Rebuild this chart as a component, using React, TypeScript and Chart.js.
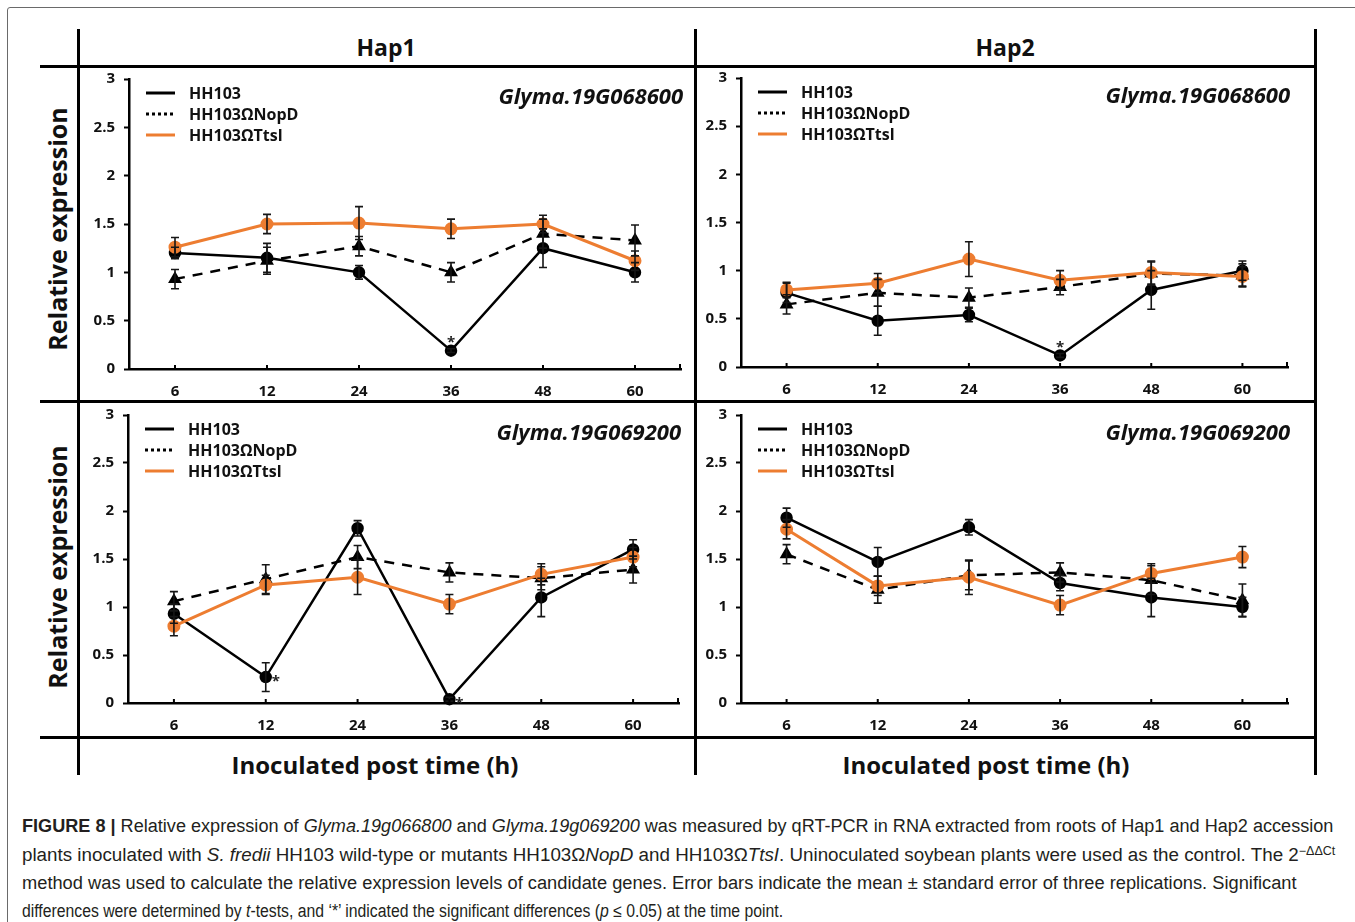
import React, { useEffect, useRef, useLayoutEffect, useState } from "react";
import { Chart, registerables } from "chart.js";

Chart.register(...registerables);

// ---------- data ----------
const timeLabels = ["6", "12", "24", "36", "48", "60"];
const yTickValues = [0, 0.5, 1, 1.5, 2, 2.5, 3];
const yTickLabels = ["0", "0.5", "1", "1.5", "2", "2.5", "3"];
const seriesNames = ["HH103", "HH103ΩNopD", "HH103ΩTtsl"];
const hapLabels = ["Hap1", "Hap2"];
const geneLabels = ["Glyma.19G068600", "Glyma.19G069200"];
const yAxisTitle = "Relative expression";
const xAxisTitle = "Inoculated post time (h)";

// Hap1 – Glyma.19G068600
const h1g1HH103 = [1.2, 1.15, 1.0, 0.19, 1.25, 1.0];
const h1g1HH103Err = [0.06, 0.15, 0.07, 0.02, 0.2, 0.1];
const h1g1NopD = [0.93, 1.12, 1.27, 1.0, 1.4, 1.33];
const h1g1NopDErr = [0.1, 0.14, 0.1, 0.1, 0.15, 0.16];
const h1g1Ttsl = [1.26, 1.5, 1.51, 1.45, 1.5, 1.12];
const h1g1TtslErr = [0.1, 0.1, 0.17, 0.1, 0.09, 0.1];

// Hap2 – Glyma.19G068600
const h2g1HH103 = [0.77, 0.48, 0.54, 0.12, 0.8, 1.0];
const h2g1HH103Err = [0.1, 0.15, 0.07, 0.02, 0.2, 0.1];
const h2g1NopD = [0.65, 0.77, 0.72, 0.83, 0.97, 0.95];
const h2g1NopDErr = [0.1, 0.14, 0.1, 0.08, 0.12, 0.12];
const h2g1Ttsl = [0.8, 0.87, 1.12, 0.9, 0.98, 0.94];
const h2g1TtslErr = [0.08, 0.1, 0.18, 0.1, 0.12, 0.1];

// Hap1 – Glyma.19G069200
const h1g2HH103 = [0.93, 0.27, 1.82, 0.04, 1.1, 1.6];
const h1g2HH103Err = [0.1, 0.15, 0.08, 0.02, 0.2, 0.1];
const h1g2NopD = [1.06, 1.29, 1.52, 1.36, 1.3, 1.39];
const h1g2NopDErr = [0.1, 0.15, 0.12, 0.1, 0.12, 0.14];
const h1g2Ttsl = [0.8, 1.23, 1.31, 1.03, 1.34, 1.52];
const h1g2TtslErr = [0.1, 0.1, 0.18, 0.1, 0.11, 0.1];

// Hap2 – Glyma.19G069200
const h2g2HH103 = [1.93, 1.47, 1.83, 1.25, 1.1, 1.0];
const h2g2HH103Err = [0.1, 0.15, 0.08, 0.08, 0.2, 0.1];
const h2g2NopD = [1.55, 1.18, 1.33, 1.36, 1.28, 1.07];
const h2g2NopDErr = [0.1, 0.14, 0.15, 0.1, 0.15, 0.17];
const h2g2Ttsl = [1.81, 1.22, 1.31, 1.02, 1.35, 1.52];
const h2g2TtslErr = [0.1, 0.1, 0.18, 0.1, 0.1, 0.11];

// significance marks: index of time point on HH103 series
const h1g1Stars = [3];
const h2g1Stars = [3];
const h1g2Stars = [1, 3];
const h2g2Stars: number[] = [];

// ---------- styles ----------
const ORANGE = "#ED7D31";
const INK = "#111";
const FONT = "'Open Sans', 'DejaVu Sans', sans-serif";

type Area = { l: number; t: number; r: number; b: number };

type PanelProps = {
  area: Area;
  values: number[][];
  errors: number[][];
  gene: string;
  stars: number[];
  starSide: "top" | "right";
};

function Panel({ area, values, errors, gene, stars, starSide }: PanelProps) {
  const ref = useRef<HTMLCanvasElement>(null);
  const padL = 50, padT = 25, padR = 25, padB = 40;
  const w = area.r - area.l + padL + padR;
  const h = area.b - area.t + padT + padB;

  useEffect(() => {
    const errorBars = {
      id: "errorBars",
      afterDatasetsDraw(chart: any) {
        const ctx = chart.ctx;
        const ys = chart.scales.y;
        chart.data.datasets.forEach((ds: any, di: number) => {
          const meta = chart.getDatasetMeta(di);
          const errs = ds.errors as number[];
          if (!errs) return;
          meta.data.forEach((pt: any, i: number) => {
            const v = ds.data[i];
            const e = errs[i];
            const y1 = ys.getPixelForValue(v + e);
            const y2 = ys.getPixelForValue(v - e);
            const x = pt.x;
            ctx.save();
            ctx.strokeStyle = "#161616";
            ctx.lineWidth = 1.6;
            ctx.beginPath();
            ctx.moveTo(x, y1); ctx.lineTo(x, y2);
            ctx.moveTo(x - 4, y1); ctx.lineTo(x + 4, y1);
            ctx.moveTo(x - 4, y2); ctx.lineTo(x + 4, y2);
            ctx.stroke();
            ctx.restore();
          });
        });
      },
    };

    const decor = {
      id: "decor",
      afterDraw(chart: any) {
        const ctx = chart.ctx;
        const { left, top, right, bottom } = chart.chartArea;
        const xs = chart.scales.x;
        ctx.save();
        // inward x ticks
        ctx.strokeStyle = "#000";
        ctx.lineWidth = 2;
        ctx.beginPath();
        timeLabels.forEach((_, i) => {
          const x = xs.getPixelForValue(i);
          ctx.moveTo(x, bottom); ctx.lineTo(x, bottom - 4);
        });
        ctx.moveTo(right - 1, bottom); ctx.lineTo(right - 1, bottom - 5);
        ctx.stroke();

        // legend
        const rows = [top + 14, top + 35, top + 56];
        const styles = [
          { c: "#000", dash: [] as number[] },
          { c: "#000", dash: [3, 3] },
          { c: ORANGE, dash: [] as number[] },
        ];
        rows.forEach((ry, i) => {
          ctx.beginPath();
          ctx.strokeStyle = styles[i].c;
          ctx.lineWidth = 3;
          ctx.setLineDash(styles[i].dash);
          ctx.moveTo(left + 17, ry); ctx.lineTo(left + 46, ry);
          ctx.stroke();
          ctx.setLineDash([]);
          ctx.fillStyle = INK;
          ctx.font = `bold 16px ${FONT}`;
          ctx.textAlign = "left";
          ctx.textBaseline = "middle";
          ctx.fillText(seriesNames[i], left + 60, ry + 1);
        });

        // gene label
        ctx.font = `italic bold 22px ${FONT}`;
        ctx.textAlign = "right";
        ctx.textBaseline = "middle";
        ctx.fillStyle = INK;
        ctx.fillText(gene, right + 2, top + 19);

        // stars
        const meta = chart.getDatasetMeta(0);
        ctx.font = `bold 15px ${FONT}`;
        ctx.textAlign = "center";
        ctx.textBaseline = "middle";
        ctx.fillStyle = "#222";
        stars.forEach((i) => {
          const p = meta.data[i];
          if (starSide === "top") ctx.fillText("*", p.x, p.y - 8);
          else ctx.fillText("*", p.x + 10, p.y + 5);
        });
        ctx.restore();
      },
    };

    const chart = new Chart(ref.current as HTMLCanvasElement, {
      type: "line",
      data: {
        labels: timeLabels,
        datasets: [
          {
            label: seriesNames[0],
            data: values[0],
            errors: errors[0],
            borderColor: "#000",
            backgroundColor: "#000",
            borderWidth: 2.5,
            pointStyle: "circle",
            pointRadius: 5,
            pointBackgroundColor: "#000",
            pointBorderColor: "#000",
            tension: 0,
            clip: false,
            order: 2,
          } as any,
          {
            label: seriesNames[1],
            data: values[1],
            errors: errors[1],
            borderColor: "#000",
            backgroundColor: "#000",
            borderWidth: 2.5,
            borderDash: [10, 8],
            pointStyle: "triangle",
            pointRadius: 5.5,
            pointBackgroundColor: "#000",
            pointBorderColor: "#000",
            tension: 0,
            clip: false,
            order: 1,
          } as any,
          {
            label: seriesNames[2],
            data: values[2],
            errors: errors[2],
            borderColor: ORANGE,
            backgroundColor: ORANGE,
            borderWidth: 3,
            pointStyle: "circle",
            pointRadius: 5,
            pointBackgroundColor: ORANGE,
            pointBorderColor: ORANGE,
            tension: 0,
            clip: false,
            order: 0,
          } as any,
        ],
      },
      options: {
        animation: false,
        responsive: false,
        maintainAspectRatio: false,
        layout: { padding: { top: padT, right: padR, left: 0, bottom: 0 } },
        plugins: { legend: { display: false }, tooltip: { enabled: false } },
        scales: {
          x: {
            type: "category",
            offset: true,
            afterFit: (s: any) => { s.height = padB; },
            grid: { display: false, drawTicks: false },
            border: { display: true, color: "#000", width: 2.5 },
            ticks: {
              color: INK,
              font: { family: FONT, size: 15, weight: "bold" },
              padding: 14,
              maxRotation: 0,
              autoSkip: false,
            },
          },
          y: {
            min: 0,
            max: 3,
            afterFit: (s: any) => { s.width = padL; },
            afterBuildTicks: (s: any) => { s.ticks = yTickValues.map((v) => ({ value: v })); },
            grid: { drawOnChartArea: false, drawTicks: true, tickLength: 5, tickWidth: 2, color: "#000" },
            border: { display: true, color: "#000", width: 2.5 },
            ticks: {
              color: INK,
              font: { family: FONT, size: 15, weight: "bold" },
              padding: 9,
              callback: (v: any) => {
                const i = yTickValues.indexOf(Number(v));
                return i >= 0 ? yTickLabels[i] : "";
              },
            },
          },
        },
      } as any,
      plugins: [errorBars, decor],
    });
    return () => chart.destroy();
  }, []);

  return (
    <canvas
      ref={ref}
      width={w}
      height={h}
      style={{ position: "absolute", left: area.l - padL, top: area.t - padT, width: w, height: h }}
    />
  );
}

function HLine({ y, x1, x2, w = 3 }: { y: number; x1: number; x2: number; w?: number }) {
  return <div style={{ position: "absolute", left: x1, top: y - w / 2, width: x2 - x1, height: w, background: "#000" }} />;
}
function VLine({ x, y1, y2, w = 3 }: { x: number; y1: number; y2: number; w?: number }) {
  return <div style={{ position: "absolute", left: x - w / 2, top: y1, width: w, height: y2 - y1, background: "#000" }} />;
}

function CenterText({ x, y, size, children, rotate = false }: any) {
  return (
    <div
      style={{
        position: "absolute",
        left: x,
        top: y,
        transform: `translate(-50%, -50%)${rotate ? " rotate(-90deg)" : ""}`,
        fontFamily: FONT,
        fontWeight: 700,
        fontSize: size,
        color: INK,
        whiteSpace: "nowrap",
        lineHeight: 1,
      }}
    >
      {children}
    </div>
  );
}

function FitLine({ y, width, children }: { y: number; width: number; children: any }) {
  const ref = useRef<HTMLSpanElement>(null);
  const [scale, setScale] = useState(1);
  useLayoutEffect(() => {
    const el = ref.current;
    if (!el) return;
    const wNow = el.offsetWidth;
    if (wNow > 0) setScale(width / wNow);
  }, []);
  return (
    <span
      ref={ref}
      style={{
        position: "absolute",
        left: 22,
        top: y - 11,
        display: "inline-block",
        whiteSpace: "nowrap",
        fontFamily: "'Liberation Sans Narrow', 'Liberation Sans', Arial, sans-serif",
        fontSize: 18,
        lineHeight: "22px",
        color: "#231f20",
        transform: `scaleX(${scale})`,
        transformOrigin: "left center",
      }}
    >
      {children}
    </span>
  );
}

export default function App() {
  const TL: Area = { l: 129, t: 79, r: 681, b: 369 };
  const TR: Area = { l: 741, t: 78, r: 1288, b: 367 };
  const BL: Area = { l: 128, t: 415, r: 679, b: 703 };
  const BR: Area = { l: 741, t: 415, r: 1288, b: 703 };

  return (
    <div style={{ position: "absolute", left: 0, top: 0, width: 1355, height: 922, overflow: "hidden", background: "#fff" }}>
      {/* outer figure box */}
      <div style={{ position: "absolute", left: 7, top: 7, width: 1400, height: 1000, border: "1.5px solid #6a6a6a", borderRadius: 3 }} />

      {/* frame */}
      <VLine x={78} y1={29} y2={775} />
      <VLine x={695} y1={29} y2={775} />
      <VLine x={1315} y1={29} y2={775} />
      <HLine y={66} x1={40} x2={1317} />
      <HLine y={401} x1={40} x2={1317} />
      <HLine y={737} x1={40} x2={1317} />

      <CenterText x={386} y={47} size={23}>{hapLabels[0]}</CenterText>
      <CenterText x={1005} y={47} size={23}>{hapLabels[1]}</CenterText>
      <CenterText x={57} y={229} size={25} rotate>{yAxisTitle}</CenterText>
      <CenterText x={57} y={567} size={25} rotate>{yAxisTitle}</CenterText>
      <CenterText x={375} y={765} size={24}>{xAxisTitle}</CenterText>
      <CenterText x={986} y={765} size={24}>{xAxisTitle}</CenterText>

      <Panel
        area={TL}
        values={[h1g1HH103, h1g1NopD, h1g1Ttsl]}
        errors={[h1g1HH103Err, h1g1NopDErr, h1g1TtslErr]}
        gene={geneLabels[0]}
        stars={h1g1Stars}
        starSide="top"
      />
      <Panel
        area={TR}
        values={[h2g1HH103, h2g1NopD, h2g1Ttsl]}
        errors={[h2g1HH103Err, h2g1NopDErr, h2g1TtslErr]}
        gene={geneLabels[0]}
        stars={h2g1Stars}
        starSide="top"
      />
      <Panel
        area={BL}
        values={[h1g2HH103, h1g2NopD, h1g2Ttsl]}
        errors={[h1g2HH103Err, h1g2NopDErr, h1g2TtslErr]}
        gene={geneLabels[1]}
        stars={h1g2Stars}
        starSide="right"
      />
      <Panel
        area={BR}
        values={[h2g2HH103, h2g2NopD, h2g2Ttsl]}
        errors={[h2g2HH103Err, h2g2NopDErr, h2g2TtslErr]}
        gene={geneLabels[1]}
        stars={h2g2Stars}
        starSide="right"
      />

      {/* caption */}
      <FitLine y={826} width={1311}>
        <b>FIGURE 8 |</b> Relative expression of <i>Glyma.19g066800</i> and <i>Glyma.19g069200</i> was measured by qRT-PCR in RNA extracted from roots of Hap1 and Hap2 accession
      </FitLine>
      <FitLine y={855} width={1313}>
        plants inoculated with <i>S. fredii</i> HH103 wild-type or mutants HH103Ω<i>NopD</i> and HH103Ω<i>TtsI</i>. Uninoculated soybean plants were used as the control. The 2<sup style={{ fontSize: 12, verticalAlign: 6, lineHeight: 0 }}>−ΔΔCt</sup>
      </FitLine>
      <FitLine y={883} width={1275}>
        method was used to calculate the relative expression levels of candidate genes. Error bars indicate the mean ± standard error of three replications. Significant
      </FitLine>
      <FitLine y={911} width={761}>
        differences were determined by <i>t</i>-tests, and ‘*’ indicated the significant differences (<i>p</i> ≤ 0.05) at the time point.
      </FitLine>
    </div>
  );
}
